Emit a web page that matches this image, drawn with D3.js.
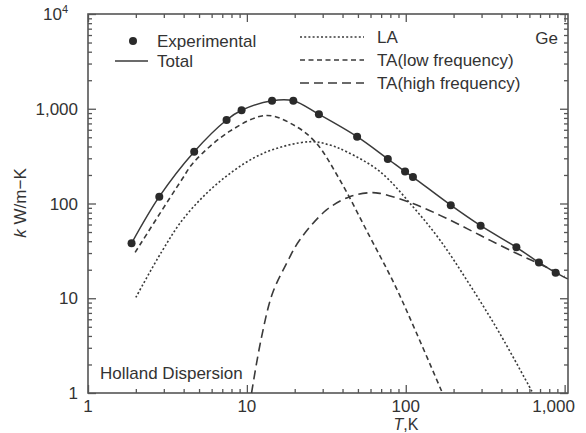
<html>
<head>
<script src="https://d3js.org/d3.v7.min.js"></script>
<style>
  body { margin: 0; background: #fff; }
  svg text { font-family: "Liberation Sans", Arial, sans-serif; fill: #333; }
</style>
</head>
<body>
<div id="chart"></div>
<script>
// experimental points [T (K), k (W/m-K)]
var experimental = [[1.88,38],[2.81,118],[4.66,352],[7.45,761],[9.26,963],[14.4,1217],[19.6,1217],
  [28.4,874],[49.4,507],[77.1,295],[99,217],[111,190],[192,96],[296,58.3],[497,34.5],[689,23.9],[878,18.6]];
var total = [[1.88,38],[2.81,118],[4.66,352],[7.45,761],[9.26,963],[14.4,1217],[19.6,1217],
  [28.4,874],[49.4,507],[77.1,295],[99,217],[111,190],[192,96],[296,58.3],[497,34.5],[689,23.9],[878,18.6],[1045,16]];
var la = [[2.0,10.2],[2.91,31],[4.08,72.6],[6.93,177],[12.7,339],[24.9,449],[33.3,414],[42.4,352],
  [68.6,218],[111,92.5],[164,41.2],[250,14.3],[390,4.27],[630,1]];
var taLow = [[1.98,30.5],[3.88,177],[4.66,276],[7.82,580],[13.3,850],[20.5,647],[27.4,432],[38.5,177],
  [59.4,44.6],[85,14],[117,4.27],[168,1.05]];
var taHigh = [[10.7,1],[12.25,3.6],[14.5,11.3],[17.8,23.4],[21.5,41.2],[31.7,85.4],[44.4,118],[59.4,130],
  [68.6,128],[111,100],[180,69.8],[292,46.5],[473,31],[697,23],[1000,17]];

var xMajor = [1, 10, 100, 1000];
var xLabels = ["1", "10", "100", "1,000"];
var yMajor = [1, 10, 100, 1000, 10000];
var yLabels = ["1", "10", "100", "1,000", "10"];

var width = 586, height = 433;
var pL = 88, pR = 568, pT = 14, pB = 393;

var svg = d3.select("#chart").append("svg")
  .attr("width", width).attr("height", height);

var x = d3.scaleLog().domain([1, 1050]).range([pL, pR]);
var y = d3.scaleLog().domain([1, 10000]).range([pB, pT]);

function minors(maxv) {
  var out = [];
  for (var d = 1; d < maxv; d *= 10)
    for (var k = 2; k <= 9; k++) if (d * k <= maxv) out.push(d * k);
  return out;
}
var xMinor = minors(1050), yMinor = minors(10000);

var axisColor = "#555";
function styleAxis(g) {
  g.select(".domain").remove();
  g.selectAll("line").attr("stroke", axisColor).attr("stroke-width", 1.3);
}

// bottom
svg.append("g").attr("transform", "translate(0," + pB + ")")
  .call(d3.axisBottom(x).tickValues(xMajor).tickSizeInner(-8).tickSizeOuter(0).tickFormat(""))
  .call(styleAxis);
svg.append("g").attr("transform", "translate(0," + pB + ")")
  .call(d3.axisBottom(x).tickValues(xMinor).tickSizeInner(-4).tickSizeOuter(0).tickFormat(""))
  .call(styleAxis);
// top
svg.append("g").attr("transform", "translate(0," + pT + ")")
  .call(d3.axisTop(x).tickValues(xMajor).tickSizeInner(-8).tickSizeOuter(0).tickFormat(""))
  .call(styleAxis);
svg.append("g").attr("transform", "translate(0," + pT + ")")
  .call(d3.axisTop(x).tickValues(xMinor).tickSizeInner(-4).tickSizeOuter(0).tickFormat(""))
  .call(styleAxis);
// left
svg.append("g").attr("transform", "translate(" + pL + ",0)")
  .call(d3.axisLeft(y).tickValues(yMajor).tickSizeInner(-8).tickSizeOuter(0).tickFormat(""))
  .call(styleAxis);
svg.append("g").attr("transform", "translate(" + pL + ",0)")
  .call(d3.axisLeft(y).tickValues(yMinor).tickSizeInner(-4).tickSizeOuter(0).tickFormat(""))
  .call(styleAxis);
// right
svg.append("g").attr("transform", "translate(" + pR + ",0)")
  .call(d3.axisRight(y).tickValues(yMajor).tickSizeInner(-8).tickSizeOuter(0).tickFormat(""))
  .call(styleAxis);
svg.append("g").attr("transform", "translate(" + pR + ",0)")
  .call(d3.axisRight(y).tickValues(yMinor).tickSizeInner(-4).tickSizeOuter(0).tickFormat(""))
  .call(styleAxis);

svg.append("rect").attr("x", pL).attr("y", pT)
  .attr("width", pR - pL).attr("height", pB - pT)
  .attr("fill", "none").attr("stroke", axisColor).attr("stroke-width", 1.6);

// tick labels
svg.selectAll(".xl").data(xMajor).enter().append("text")
  .attr("x", function(d, i) { return i === 3 ? x(d) - 11 : x(d); })
  .attr("y", pB + 19)
  .attr("text-anchor", "middle").attr("font-size", 17)
  .text(function(d, i) { return xLabels[i]; });

var yl = svg.selectAll(".yl").data(yMajor).enter().append("text")
  .attr("x", function(d, i) { return i === 4 ? pL - 20 : pL - 10; })
  .attr("y", function(d) { return y(d) + 6; })
  .attr("text-anchor", "end").attr("font-size", 17)
  .text(function(d, i) { return yLabels[i]; });
yl.filter(function(d, i) { return i === 4; }).append("tspan")
  .attr("font-size", 11).attr("dy", -7).text("4");

// axis titles
var xt = svg.append("text").attr("x", 406).attr("y", 430).attr("text-anchor", "middle").attr("font-size", 16);
xt.append("tspan").attr("font-style", "italic").text("T");
xt.append("tspan").text(",K");
var yt = svg.append("text").attr("transform", "translate(26,203) rotate(-90)")
  .attr("text-anchor", "middle").attr("font-size", 17);
yt.append("tspan").attr("font-style", "italic").text("k");
yt.append("tspan").text(" W/m\u2212K");

// curves
var line = d3.line()
  .x(function(d) { return x(d[0]); })
  .y(function(d) { return y(d[1]); })
  .curve(d3.curveCatmullRom.alpha(0.5));

var lineColor = "#3a3a3a";
var styles = [
  { data: la, dash: "2,2.2", w: 1.6 },
  { data: taLow, dash: "5,3.5", w: 1.6 },
  { data: taHigh, dash: "9,5", w: 1.6 },
  { data: total, dash: null, w: 1.5 }
];
styles.forEach(function(s) {
  svg.append("path").datum(s.data)
    .attr("d", line).attr("fill", "none")
    .attr("stroke", lineColor).attr("stroke-width", s.w)
    .attr("stroke-dasharray", s.dash);
});

svg.selectAll(".dot").data(experimental).enter().append("circle")
  .attr("cx", function(d) { return x(d[0]); })
  .attr("cy", function(d) { return y(d[1]); })
  .attr("r", 4).attr("fill", "#2a2a2a");

// legend
svg.append("circle").attr("cx", 133).attr("cy", 41).attr("r", 4).attr("fill", "#2a2a2a");
svg.append("text").attr("x", 157).attr("y", 47).attr("font-size", 17).text("Experimental");
svg.append("line").attr("x1", 115).attr("x2", 148).attr("y1", 61).attr("y2", 61)
  .attr("stroke", lineColor).attr("stroke-width", 1.5);
svg.append("text").attr("x", 157).attr("y", 67).attr("font-size", 17).text("Total");

var legR = [
  { label: "LA", dash: "2,2.2", yy: 37 },
  { label: "TA(low frequency)", dash: "5,3.5", yy: 60 },
  { label: "TA(high frequency)", dash: "9,5", yy: 83 }
];
legR.forEach(function(l) {
  svg.append("line").attr("x1", 300).attr("x2", 364).attr("y1", l.yy).attr("y2", l.yy)
    .attr("stroke", lineColor).attr("stroke-width", 1.6).attr("stroke-dasharray", l.dash);
  svg.append("text").attr("x", 377).attr("y", l.yy + 6).attr("font-size", 17).text(l.label);
});

svg.append("text").attr("x", 558).attr("y", 44).attr("text-anchor", "end").attr("font-size", 17).text("Ge");
svg.append("text").attr("x", 100).attr("y", 379).attr("font-size", 17).text("Holland Dispersion");
</script>
</body>
</html>
